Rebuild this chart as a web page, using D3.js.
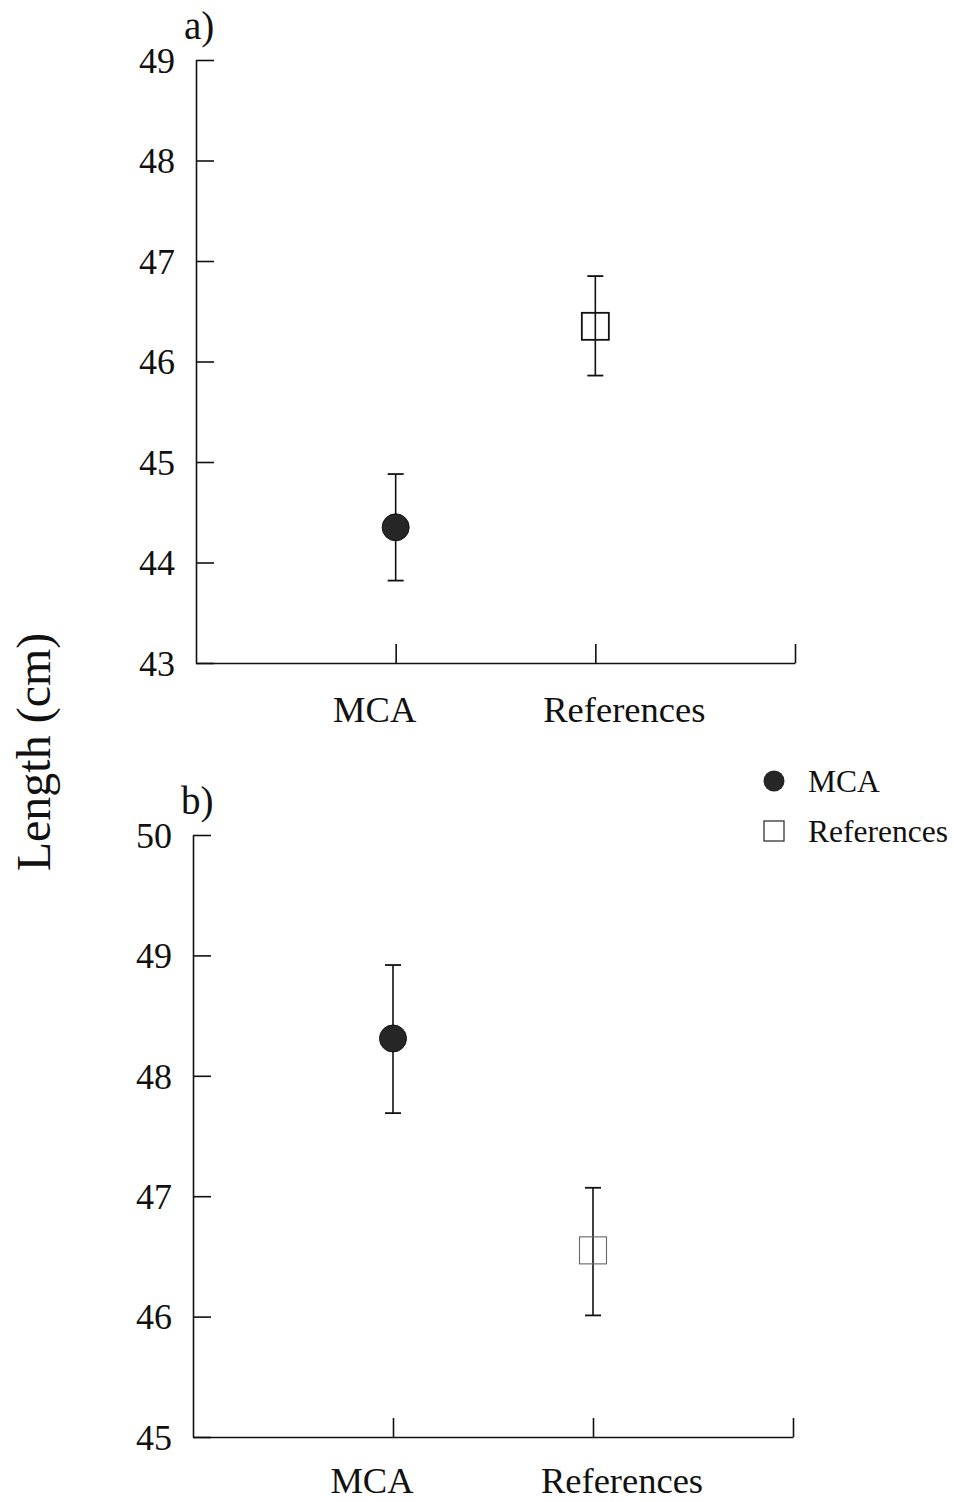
<!DOCTYPE html>
<html>
<head>
<meta charset="utf-8">
<script src="https://cdn.jsdelivr.net/npm/d3@7"></script>
<style>
  html, body { margin: 0; padding: 0; background: #fff; }
  svg { display: block; }
  text { font-family: "Liberation Serif", "DejaVu Serif", serif; fill: #111; }
</style>
</head>
<body>
<svg id="chart" width="954" height="1502"></svg>
<script>
// ---- data ----
const categories = ["MCA", "References"];
const panelNames = ["a)", "b)"];
// panel a
const meansA = [44.35, 46.35];
const lowA   = [43.82, 45.86];
const highA  = [44.88, 46.85];
const ticksA = [43, 44, 45, 46, 47, 48, 49];
// panel b
const meansB = [48.31, 46.55];
const lowB   = [47.69, 46.01];
const highB  = [48.92, 47.07];
const ticksB = [45, 46, 47, 48, 49, 50];
const yLabel = "Length (cm)";

const svg = d3.select("#chart");

function panel(cfg) {
  const x = d3.scaleLinear().domain([0, 3]).range([cfg.x0, cfg.x1]);
  const y = d3.scaleLinear().domain(cfg.domain).range([cfg.y1, cfg.y0]);
  const g = svg.append("g");

  // y axis (inward ticks)
  const ya = g.append("g").attr("transform", `translate(${cfg.x0},0)`)
    .call(d3.axisLeft(y).tickValues(cfg.ticks).tickSizeInner(-18).tickSizeOuter(0).tickPadding(21).tickFormat(d3.format("d")));
  ya.select(".domain").attr("stroke", "#111").attr("stroke-width", 1.6);
  ya.selectAll(".tick line").attr("stroke", "#111").attr("stroke-width", 1.6);
  ya.selectAll(".tick text").attr("font-size", 36).attr("font-family", "Liberation Serif")
    .attr("fill", "#111").attr("dy", "0.34em");

  // x axis (inward ticks)
  const xa = g.append("g").attr("transform", `translate(0,${cfg.y1})`)
    .call(d3.axisBottom(x).tickValues([1, 2, 3]).tickSizeInner(-19).tickSizeOuter(0).tickFormat(""));
  xa.select(".domain").attr("stroke", "#111").attr("stroke-width", 1.6);
  xa.selectAll(".tick line").attr("stroke", "#111").attr("stroke-width", 1.6);

  // category labels
  const labOffset = [-21, 29];
  g.selectAll("text.cat").data(categories).join("text").attr("class", "cat")
    .attr("x", (d, i) => x(i + 1) + labOffset[i])
    .attr("y", cfg.labY)
    .attr("text-anchor", "middle").attr("font-size", 36.5).text(d => d);

  // panel label
  g.append("text").attr("x", cfg.x0 - 12).attr("y", cfg.y0 - 21)
    .attr("font-size", 39).text(cfg.name);

  // error bars
  const cap = 8;
  cfg.means.forEach((m, i) => {
    const cx = x(i + 1);
    g.append("line").attr("x1", cx).attr("x2", cx).attr("y1", y(cfg.low[i])).attr("y2", y(cfg.high[i]))
      .attr("stroke", "#111").attr("stroke-width", 1.6);
    [cfg.low[i], cfg.high[i]].forEach(v => {
      g.append("line").attr("x1", cx - cap).attr("x2", cx + cap).attr("y1", y(v)).attr("y2", y(v))
        .attr("stroke", "#111").attr("stroke-width", 1.8);
    });
  });
  // markers
  g.append("circle").attr("cx", x(1)).attr("cy", y(cfg.means[0])).attr("r", 13.5)
    .attr("fill", "#262626").attr("stroke", "#111").attr("stroke-width", 1);
  const s = 27;
  g.append("rect").attr("x", x(2) - s / 2).attr("y", y(cfg.means[1]) - s / 2)
    .attr("width", s).attr("height", s).attr("fill", "none")
    .attr("stroke", cfg.sqStroke).attr("stroke-width", cfg.sqWidth);
}

panel({ name: panelNames[0], x0: 196, x1: 795, y0: 60, y1: 663, domain: [43, 49],
  ticks: ticksA, means: meansA, low: lowA, high: highA, labY: 722, sqStroke: "#111", sqWidth: 1.8 });
panel({ name: panelNames[1], x0: 193, x1: 793, y0: 835, y1: 1437, domain: [45, 50],
  ticks: ticksB, means: meansB, low: lowB, high: highB, labY: 1493, sqStroke: "#666", sqWidth: 1.1 });

// y label
svg.append("text").attr("transform", "translate(50,752) rotate(-90)")
  .attr("text-anchor", "middle").attr("font-size", 48).text(yLabel);

// legend
const leg = svg.append("g");
leg.append("circle").attr("cx", 774).attr("cy", 781).attr("r", 10.5).attr("fill", "#262626");
leg.append("rect").attr("x", 764).attr("y", 821).attr("width", 20).attr("height", 20)
  .attr("fill", "none").attr("stroke", "#333").attr("stroke-width", 1.3);
leg.selectAll("text.leg").data(categories).join("text").attr("class", "leg")
  .attr("x", 808).attr("y", (d, i) => 792 + i * 50).attr("font-size", 31.5).text(d => d);
</script>
</body>
</html>
